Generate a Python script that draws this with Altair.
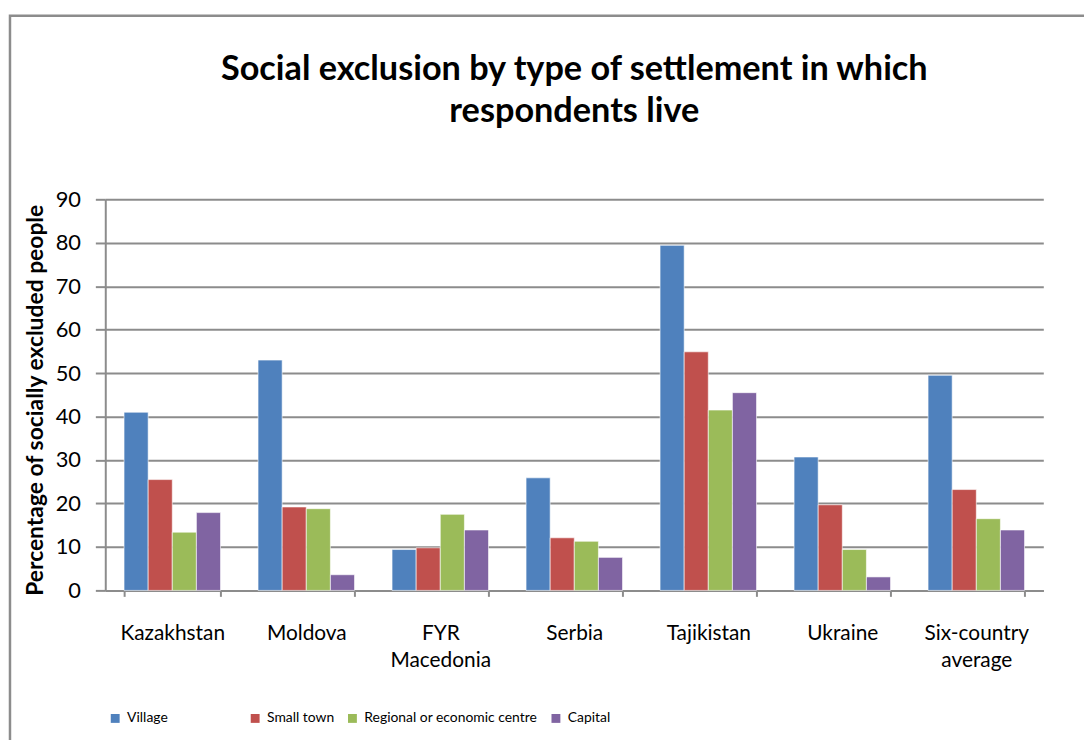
import altair as alt
import pandas as pd

countries = ["Kazakhstan", "Moldova", "FYR Macedonia", "Serbia", "Tajikistan", "Ukraine", "Six-country average"]
settlements = ["Village", "Small town", "Regional or economic centre", "Capital"]
village = [41.0, 53.0, 9.4, 25.9, 79.4, 30.7, 49.5]
small_town = [25.5, 19.2, 9.8, 12.1, 54.9, 19.7, 23.2]
regional = [13.4, 18.8, 17.5, 11.3, 41.5, 9.4, 16.5]
capital = [17.9, 3.6, 13.9, 7.6, 45.5, 3.1, 13.9]
colors = ["#4F81BD", "#C0504D", "#9BBB59", "#8064A2"]
y_ticks = [0, 10, 20, 30, 40, 50, 60, 70, 80, 90]

rows = []
for s, vals in zip(settlements, [village, small_town, regional, capital]):
    for c, v in zip(countries, vals):
        rows.append({"country": c, "settlement": s, "value": v})
df = pd.DataFrame(rows)

FONT = "Lato"
PAD = "\u2800" * 7

bars = alt.Chart(df).mark_bar(stroke="white", strokeWidth=0.6).encode(
    x=alt.X("country:N", sort=countries,
            scale=alt.Scale(paddingInner=0.28, paddingOuter=0.14),
            axis=alt.Axis(title=None, labelAngle=0, tickBand="extent",
                          labelExpr="split(datum.label, ' ')",
                          labelFont=FONT, labelFontSize=21, labelColor="black",
                          labelLineHeight=28, labelPadding=26, tickSize=6,
                          domainColor="#8c8c8c", domainWidth=2,
                          tickColor="#8c8c8c", tickWidth=2, grid=False)),
    xOffset=alt.XOffset("settlement:N", sort=settlements,
                        scale=alt.Scale(paddingInner=0, paddingOuter=0)),
    y=alt.Y("value:Q", scale=alt.Scale(domain=[0, 90], nice=False),
            axis=alt.Axis(title="Percentage of socially excluded  people",
                          values=y_ticks, titleFont=FONT, titleFontSize=23,
                          titleFontWeight="bold", titleColor="black",
                          titlePadding=8, titleY=202,
                          labelFont=FONT, labelFontSize=22, labelColor="black",
                          labelPadding=15, tickSize=10,
                          tickColor="#8c8c8c", tickWidth=2,
                          domainColor="#8c8c8c", domainWidth=2,
                          gridColor="#8c8c8c", gridWidth=2)),
    color=alt.Color("settlement:N", sort=settlements,
                    scale=alt.Scale(domain=settlements, range=colors),
                    legend=alt.Legend(title=None, orient="none", direction="horizontal",
                                      legendX=3, legendY=516,
                                      symbolType="square", symbolSize=80,
                                      symbolStrokeWidth=0, labelOffset=5,
                                      columnPadding=11,
                                      labelFont=FONT, labelFontSize=14, labelColor="black",
                                      labelLimit=400,
                                      labelExpr="datum.label == 'Village' ? datum.label + '" + PAD + "' : datum.label")),
)

frame = alt.Chart(pd.DataFrame({"a": [0]})).mark_rect(
    fill=None, stroke="#8c8c8c", strokeWidth=2.5
).encode(
    x=alt.value(-96), x2=alt.value(1010), y=alt.value(-185), y2=alt.value(600)
)

chart = alt.layer(frame, bars).properties(
    width=945, height=394,
    title=alt.Title(["Social exclusion by type of settlement in which", "respondents live"],
                    font=FONT, fontSize=34.5, fontWeight="bold", color="black",
                    anchor="middle", frame="group", offset=0, dy=150,
                    baseline="bottom", lineHeight=42),
    autosize=alt.AutoSizeParams(type="none"),
    padding={"left": 98, "top": 190, "right": 41, "bottom": 148},
).configure_view(stroke=None)

chart.save("out.html", embed_options={"renderer": "svg", "actions": False})
